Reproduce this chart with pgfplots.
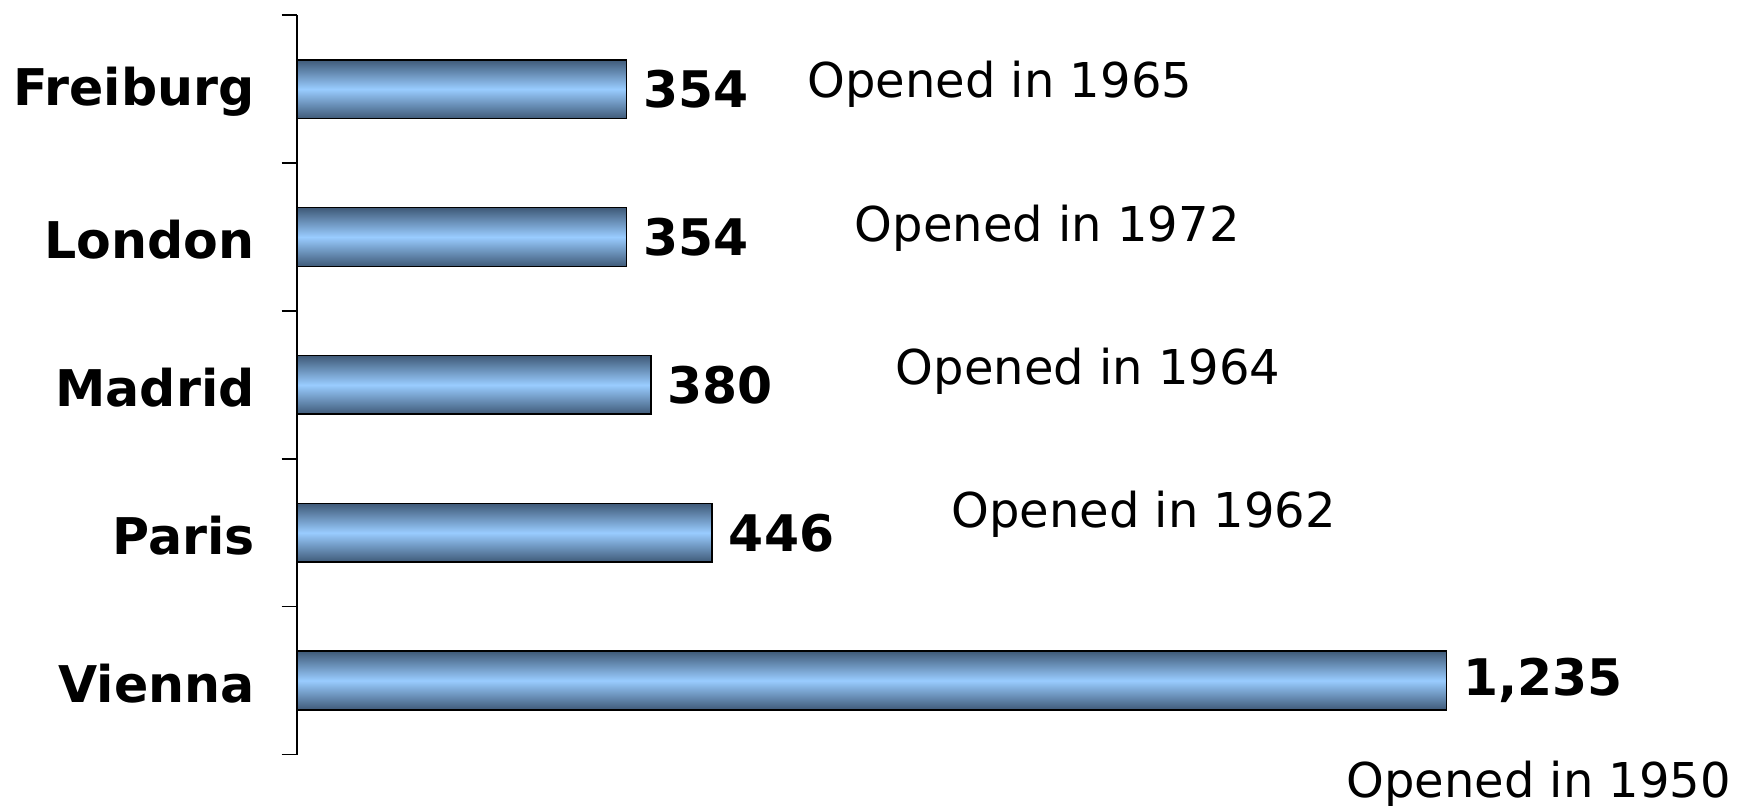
\documentclass[border=0pt]{standalone}
\usepackage{pgfplots}
\usepackage{pgfplotstable}
\pgfplotsset{compat=1.18}
\usepackage{fontspec}
\setmainfont{DejaVu Sans}
\definecolor{barEdge}{HTML}{3F5A78}
\definecolor{barMid}{HTML}{99CCFF}
\pgfplotstableread{
y x yr
-0.035 548 1965
0.941 599 1972
1.908 643 1964
2.875 702.6 1962
4.700 1127 1950
}\opened
\pgfplotsset{
  mybar/.style={xbar, bar width=29.35bp, draw=black, line width=0.8bp,
    top color=barEdge, bottom color=barEdge, middle color=barMid,
    nodes near coords, point meta=explicit symbolic,
    nodes near coords style={anchor=west, inner sep=0pt, xshift=8bp, text=black,
      font=\fontsize{25.2bp}{30bp}\selectfont\bfseries}},
}
\begin{document}
\begin{tikzpicture}
\begin{axis}[
  x=0.4654bp, y=73.925bp, y dir=reverse,
  xmin=0, xmax=1400, ymin=-0.5, ymax=4.5,
  axis x line=none, axis y line=left,
  y axis line style={-, line width=0.8bp, black},
  ytick={0,...,4}, yticklabels={Freiburg,London,Madrid,Paris,Vienna},
  major tick length=0pt,
  minor ytick={-0.5,0.5,...,4.5}, minor tick length=7.75bp,
  tick align=outside, tick style={line width=0.8bp, black},
  yticklabel style={font=\fontsize{25.3bp}{30bp}\selectfont\bfseries, inner sep=0pt, xshift=-21bp, yshift=-1.5bp, anchor=east},
  clip=false,
]
\addplot[mybar] coordinates {(354,0) [354]};
\addplot[mybar] coordinates {(354,1) [354]};
\addplot[mybar] coordinates {(380,2) [380]};
\addplot[mybar] coordinates {(446,3) [446]};
\addplot[mybar] coordinates {(1235,4) [{1,235}]};
\addplot[draw=none, mark=none, nodes near coords={Opened in \pgfplotspointmeta},
  point meta=explicit symbolic,
  nodes near coords style={anchor=west, inner sep=0pt, text=black,
    font=\fontsize{24bp}{29bp}\selectfont}]
  table[x=x, y=y, meta=yr]{\opened};
\coordinate (ll) at (axis cs:-319.1,4.848);
\coordinate (ur) at (axis cs:1548.1,-0.603);
\end{axis}
\pgfresetboundingbox
\path[use as bounding box] (ll) rectangle (ur);
\end{tikzpicture}
\end{document}
